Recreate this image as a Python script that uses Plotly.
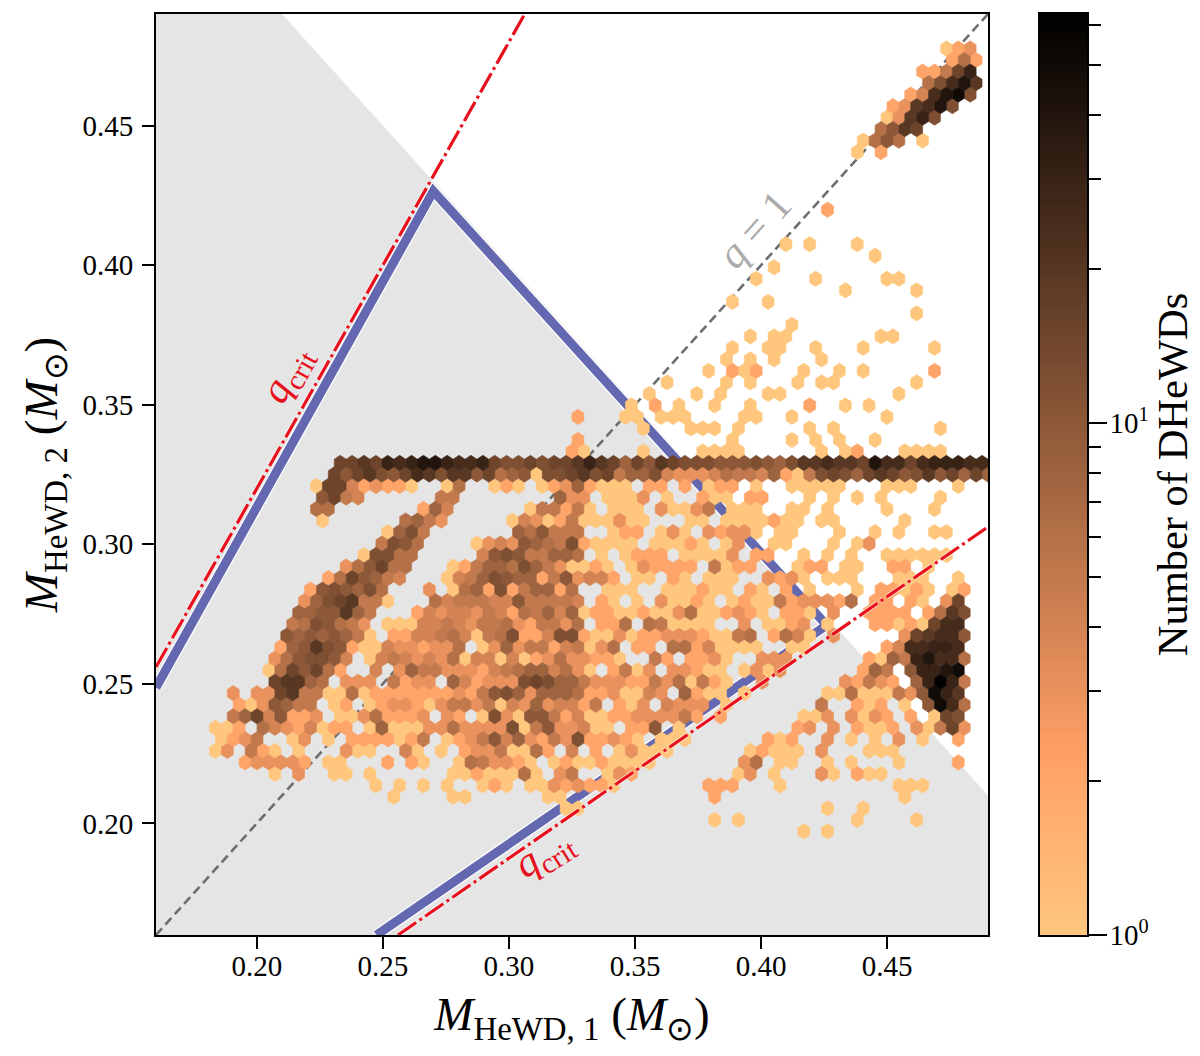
import numpy as np
import plotly.graph_objects as go

# axis limits and hexbin grid of the reference
AX_MIN, AX_MAX = 0.16, 0.49
GRID_X, GRID_Y = 70, 40

x_ticks = [0.20, 0.25, 0.30, 0.35, 0.40, 0.45]
y_ticks = [0.20, 0.25, 0.30, 0.35, 0.40, 0.45]

# one-character cell codes -> number of DHeWDs in the cell ('.' = empty cell)
code_counts = {"1": 1, "2": 2, "3": 3, "4": 4, "5": 5, "6": 6, "8": 8, "a": 10, "b": 12, "c": 15,
               "d": 20, "e": 25, "f": 30, "g": 40, "h": 50, "i": 60}

# hexbin rows: lattice row number, first bin of the row, cell codes from there on
row_number = [77, 76, 75, 74, 73, 72, 71, 70, 69, 68, 63, 60, 59, 58, 57, 56, 55, 54, 53, 52, 51, 50, 49, 48, 47, 46,
              45, 44, 43, 42, 41, 40, 39, 38, 37, 36, 35, 34, 33, 32, 31, 30, 29, 28, 27, 26, 25, 24, 23, 22, 21, 20,
              19, 18, 17, 16, 15, 14, 13, 12, 11, 10, 9]
row_first_bin = [66, 67, 64, 65, 63, 62, 61, 61, 59, 59, 56, 53, 60, 52, 50, 58, 48, 64, 53, 50, 48, 48, 46, 43, 41, 40,
                 35, 41, 35, 35, 15, 15, 13, 14, 13, 14, 19, 19, 17, 16, 14, 13, 12, 12, 11, 11, 10, 10, 9, 10, 6, 7,
                 6, 5, 5, 5, 7, 10, 18, 20, 34, 47, 54]
row_cells = [
    "123", "262", "225cf", "6begd", "24eghb", "23degb", "13dfb", "6adc", "16a6.1", "1.2",
    "2", "1.1...1", "1", "1", "1....1.....11", "1.....1", "1..1", "1", "1", "1.11.......11",
    "1..11..1...1.....1", "1.1.1...1", "1.212...1..1.1.....2", "1....1.1...1.11......1",
    "1...1.1...11.........1", "1.2.1..1..1....2..1.1",
    "2...11.111....11..1.......1",
    "1...111.1.....1.1........1",
    "2............1....1.1.1..1",
    "21....1....1111......1.12...1111",
    "ccdcfefggfeefcbbcbccdfdc8cadcbbbaaaba8bddeddcgeecefffee",
    "cacdbacedbddac68a1bbcdbc588b4333465548215bcb8cdcabdac8c8",
    "1cc423221..16..121.12382111.22.2.122.1..11111...111...1",
    "ac54......55........833.1113.1..211.22...1.1.1.1....1",
    "66.......284......155251.111.31135.111..11.1....1...1",
    "1......6853.....143125111311...11.1111211.11.....1",
    "18b5.......86a555..122.131.32331.11...1..1.1..11",
    "5ba6....1343a865b21111.11121.13..11...1.13",
    "1bb66.....4aba55886.1.1222.11113.22..1.1.1..111111",
    "36ac66...125886b8531121.132222.5122...122.11..22.1",
    "26ca854...1458ba8825a3442.11.21.111..3231.111...111..1",
    "2aba8b6...3.1682b258826..111..111211.21.2.1...1.22121.12",
    "38bcd551...6455544a55554.21.1.31121.12115233326.22.21.3c",
    "88aad85...243443542658481221121136112321.221.3..2222.26db",
    "56ba653.11144543556325536.226.651111..3.1123.1...22121cee",
    "a8a8a851.2244564156b224bb211312233321156.2641.3.....3cdeea",
    "28adba2114332336.138355245136.22.66241111..11......24eeffe",
    "36abba4.1454343614414123633221..52.2231..333......2185fgee6",
    "16cac62..4.38553332456884631.2513.33211.1313......285.affgh",
    "cdd86.333.5233.842333bcb885333225361521..3......32532.8fif5",
    "3.33cd5511612222222325ab8388862231143.8211.1......11611153ahfd",
    "213a855.12.12332135535143834425.213.4333.1.......5..212.1.ahe6",
    "58c4a223.11362223.32.1b31aa5241122333352.2......113.3132.2.1cb",
    "112.64324122.181113363333b15a33411.22a.1.........23.3.2112.315c3",
    "1235..13.1.2222125.1235a483253b22321.111......212..3.1.1.3.1..2",
    "13.521.1...311..41.1.23351162.4.2.13111......12111.3...111",
    "233332.11...2.21..1653321.121121111.......36.11..1.1...1....2",
    "1.3..11.1......11211161.35..132........13.1...31.211",
    "1.1.1.1..121.11323221.......222...1.........111",
    "1....11......11............2...............1",
    "11....................1..1",
    "1.1.........1....1",
    "1.1",
]

# reference lines
q_crit = 1.6
mass_sum_limit = 0.70
blue_m1 = [0.16, 0.27, 0.426, 0.2475]
blue_m2 = [0.2487, 0.4265, 0.271, 0.16]
colorbar_top = 63.0

FONT = "Liberation Serif"
sx = (AX_MAX - AX_MIN) / GRID_X
sy = (AX_MAX - AX_MIN) / GRID_Y


def copper_r(count):
    t = np.log10(count) / np.log10(colorbar_top)
    v = 1 - t
    return "rgb(%d,%d,%d)" % (255 * min(1, 1.25 * v), 255 * 0.7812 * v, 255 * 0.4975 * v)


fig = go.Figure()

# forbidden region
fig.add_trace(go.Scatter(
    x=[AX_MIN, AX_MIN, mass_sum_limit - AX_MAX, AX_MAX, AX_MAX],
    y=[AX_MIN, AX_MAX, AX_MAX, mass_sum_limit - AX_MAX, AX_MIN],
    fill="toself", fillcolor="#e5e5e5", mode="none", hoverinfo="skip", showlegend=False))

# q = 1
fig.add_trace(go.Scatter(x=[AX_MIN, AX_MAX], y=[AX_MIN, AX_MAX], mode="lines",
                         line=dict(color="#6e6e6e", width=2.6, dash="9px,5px"),
                         hoverinfo="skip", showlegend=False))

# stability boundary
fig.add_trace(go.Scatter(x=blue_m1, y=blue_m2, mode="lines", line=dict(color="white", width=11.5),
                         hoverinfo="skip", showlegend=False))
fig.add_trace(go.Scatter(x=blue_m1, y=blue_m2, mode="lines", line=dict(color="#6368b0", width=9),
                         hoverinfo="skip", showlegend=False))

# hexbin cells, one trace per count
cells = {}
for m, first, codes in zip(row_number, row_first_bin, row_cells):
    for k, ch in enumerate(codes):
        if ch == ".":
            continue
        i = first + k
        cx = AX_MIN + (i + (0.5 if m % 2 else 0.0)) * sx
        cy = AX_MIN + m * sy / 2
        cells.setdefault(code_counts[ch], []).append((cx, cy))

hex_dx = np.array([0.5, 0.5, 0, -0.5, -0.5, 0, 0.5]) * sx
hex_dy = np.array([-0.5, 0.5, 1, 0.5, -0.5, -1, -0.5]) * sy / 3
for count in sorted(cells):
    xs, ys = [], []
    for cx, cy in cells[count]:
        xs += list(cx + hex_dx) + [None]
        ys += list(cy + hex_dy) + [None]
    col = copper_r(count)
    fig.add_trace(go.Scatter(x=xs, y=ys, mode="lines", fill="toself", fillcolor=col,
                             line=dict(color=col, width=0.6), name=str(count),
                             hoverinfo="skip", showlegend=False))

# critical mass ratio lines
crit_x1 = [AX_MIN, AX_MAX / q_crit]
crit_y1 = [AX_MIN * q_crit, AX_MAX]
crit_x2 = [AX_MIN * q_crit, AX_MAX]
crit_y2 = [AX_MIN, AX_MAX / q_crit]
for xs, ys in ((crit_x1, crit_y1), (crit_x2, crit_y2)):
    fig.add_trace(go.Scatter(x=xs, y=ys, mode="lines", line=dict(color="white", width=5, dash="22px,4px,3px,4px"),
                             opacity=0.6, hoverinfo="skip", showlegend=False))
    fig.add_trace(go.Scatter(x=xs, y=ys, mode="lines", line=dict(color="#e8101c", width=3.2, dash="22px,4px,3px,4px"),
                             hoverinfo="skip", showlegend=False))

# colour bar, drawn in its own log axis so that it can carry minor ticks
levels = np.linspace(0, np.log10(colorbar_top), 256)
scale = [[float(t), copper_r(10 ** (t * np.log10(colorbar_top)))] for t in np.linspace(0, 1, 33)]
fig.add_trace(go.Heatmap(x=[0, 1], y=(10 ** levels).tolist(), z=[[float(v), float(v)] for v in levels],
                         colorscale=scale, zmin=0, zmax=float(np.log10(colorbar_top)), showscale=False,
                         hoverinfo="skip", xaxis="x2", yaxis="y2"))

axis_common = dict(range=[AX_MIN, AX_MAX], showgrid=False, zeroline=False, showline=True, mirror=True,
                   automargin=False,
                   linecolor="black", linewidth=2, ticks="outside", ticklen=12, tickwidth=2, tickcolor="black",
                   tickformat=".2f", tickfont=dict(family=FONT, size=29, color="black"), layer="above traces")
label = "<i>M</i><sub>HeWD, %d</sub> (<i>M</i><sub>⊙</sub>)"

fig.update_layout(
    width=1200, height=1056, autosize=False, margin=dict(l=0, r=0, t=0, b=0),
    paper_bgcolor="white", plot_bgcolor="white", font=dict(family=FONT, color="black"),
    xaxis=dict(axis_common, domain=[156 / 1200, 988 / 1200], tickmode="array", tickvals=x_ticks,
               ticklabelstandoff=-8,
               title=dict(text=label % 1, font=dict(family=FONT, size=47), standoff=16)),
    yaxis=dict(axis_common, domain=[1 - 935 / 1056, 1 - 14 / 1056], tickmode="array", tickvals=y_ticks,
               ticklabelstandoff=3,
               title=dict(text=label % 2, font=dict(family=FONT, size=47), standoff=10)),
    xaxis2=dict(domain=[1040 / 1200, 1087 / 1200], range=[0, 1], anchor="y2", showticklabels=False, ticks="",
                automargin=False,
                showgrid=False, zeroline=False, showline=True, mirror=True, linecolor="black", linewidth=1.5),
    yaxis2=dict(domain=[1 - 935 / 1056, 1 - 14 / 1056], type="log", range=[0, float(np.log10(colorbar_top))],
                anchor="x2", side="right", showgrid=False, zeroline=False, showline=True, mirror=True,
                automargin=False, ticklabelstandoff=-3,
                linecolor="black", linewidth=1.5, ticks="outside", ticklen=18, tickwidth=2, tickcolor="black",
                tickmode="array", tickvals=[1, 10], ticktext=["10<sup>0</sup>", "10<sup>1</sup>"],
                tickfont=dict(family=FONT, size=29, color="black"),
                minor=dict(ticks="outside", ticklen=12, tickwidth=1.6, tickcolor="black", tickmode="array",
                           tickvals=[2, 3, 4, 5, 6, 7, 8, 9, 20, 30, 40, 50, 60]),
                title=dict(text="Number of DHeWDs", font=dict(family=FONT, size=42.5), standoff=1)),
    annotations=[
        dict(x=0.2120, y=0.3607, xref="x", yref="y", text="<i>q</i><sub>crit</sub>", textangle=-61, showarrow=False,
             font=dict(family=FONT, size=41, color="#e8101c")),
        dict(x=0.3140, y=0.1889, xref="x", yref="y", text="<i>q</i><sub>crit</sub>", textangle=-32, showarrow=False,
             font=dict(family=FONT, size=41, color="#e8101c")),
        dict(x=0.3975, y=0.4129, xref="x", yref="y", text="<i>q</i> = 1", textangle=-48, showarrow=False,
             font=dict(family=FONT, size=42, color="#ababab")),
    ],
)

fig.write_html("out.html", config={"displayModeBar": False}, post_script="document.body.style.margin='0';")
